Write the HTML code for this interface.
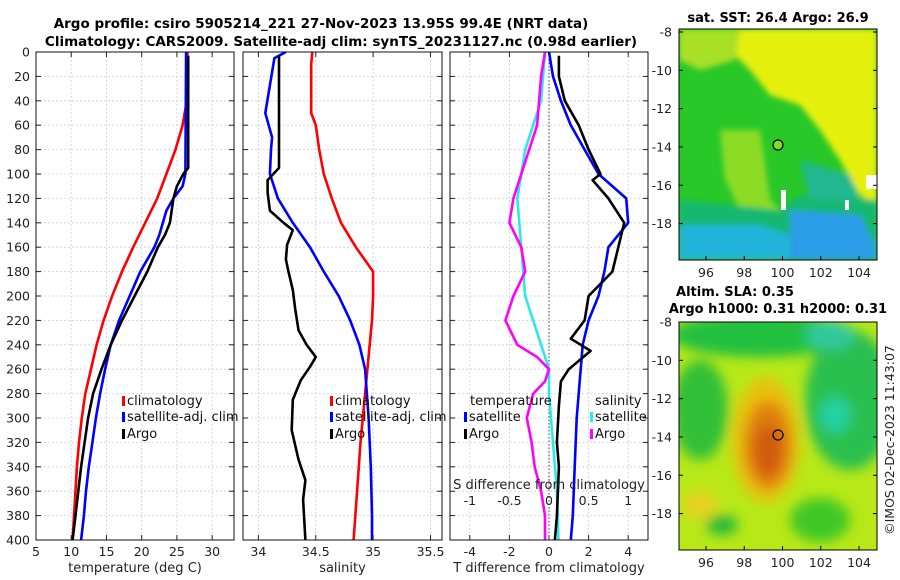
<!DOCTYPE html>
<html><head><meta charset="utf-8"><style>
html,body{margin:0;padding:0;background:#fff;}
svg{display:block;font-family:"DejaVu Sans","Liberation Sans",sans-serif;}
</style></head><body>
<svg id="c" width="900" height="580" viewBox="0 0 900 580">
<defs>
<filter id="bl" x="-20%" y="-20%" width="140%" height="140%"><feGaussianBlur stdDeviation="6"/></filter>
<filter id="bl2" x="-20%" y="-20%" width="140%" height="140%"><feGaussianBlur stdDeviation="3"/></filter>
<clipPath id="m1c"><rect x="679" y="29" width="198" height="231"/></clipPath>
<clipPath id="m2c"><rect x="679" y="322" width="198" height="228"/></clipPath>
</defs>
<text x="321" y="28" text-anchor="middle" font-size="13.5" font-weight="bold">Argo profile: csiro 5905214_221 27-Nov-2023 13.95S 99.4E (NRT data)</text>
<text x="341" y="46" text-anchor="middle" font-size="13.5" font-weight="bold">Climatology: CARS2009. Satellite-adj clim: synTS_20231127.nc (0.98d earlier)</text>

<g>
<text x="778" y="22" text-anchor="middle" font-size="13" font-weight="bold">sat. SST: 26.4 Argo: 26.9</text>
<g clip-path="url(#m1c)">
<rect x="679" y="29" width="198" height="231" fill="#28c828"/>
<g filter="url(#bl2)">
<polygon points="740,29 877,29 877,205 860,195 840,160 820,130 800,105 770,95 750,70 730,50" fill="#e6f00a"/>
<polygon points="679,29 740,29 735,60 700,70 679,60" fill="#a8e028"/>
<polygon points="720,130 760,130 770,200 780,210 740,210 725,180" fill="#8cdc28"/>
<polygon points="679,200 780,210 800,195 877,200 877,260 679,260" fill="#18b870"/>
<polygon points="679,225 760,225 790,235 877,240 877,260 679,260" fill="#20b4d8"/>
<polygon points="790,210 860,215 877,250 877,260 790,260" fill="#2c9ce8"/>
<polygon points="800,160 850,175 860,200 810,200" fill="#20b890"/>
</g>
<rect x="866" y="175" width="11" height="14" fill="#fff"/>
<rect x="781" y="190" width="5" height="20" fill="#fff"/>
<rect x="845" y="200" width="4" height="10" fill="#fff"/>
<circle cx="778" cy="145" r="5" fill="#80dc28" stroke="#000" stroke-width="1.2"/>
</g>
<rect x="679" y="29" width="198" height="231" fill="none" stroke="#000" stroke-width="1"/>
<g id="m1ax"></g>
</g>

<g>
<text x="735" y="296" text-anchor="middle" font-size="13" font-weight="bold">Altim. SLA: 0.35</text>
<text x="778" y="313" text-anchor="middle" font-size="13" font-weight="bold">Argo h1000: 0.31 h2000: 0.31</text>
<g clip-path="url(#m2c)">
<rect x="679" y="322" width="198" height="228" fill="#b8e818"/>
<g filter="url(#bl)">
<ellipse cx="760" cy="335" rx="90" ry="22" fill="#22c040"/>
<ellipse cx="850" cy="400" rx="45" ry="70" fill="#2cc050"/>
<ellipse cx="835" cy="415" rx="16" ry="18" fill="#28d0a0"/>
<ellipse cx="700" cy="410" rx="28" ry="50" fill="#30c038"/>
<ellipse cx="830" cy="335" rx="25" ry="14" fill="#30c8a0"/>
<ellipse cx="766" cy="440" rx="34" ry="62" fill="#e8c010"/>
<ellipse cx="768" cy="445" rx="24" ry="44" fill="#e08010"/>
<ellipse cx="768" cy="450" rx="14" ry="26" fill="#d05c08"/>
<ellipse cx="722" cy="525" rx="16" ry="10" fill="#28b838"/>
<ellipse cx="820" cy="520" rx="30" ry="22" fill="#40c828"/>
<ellipse cx="700" cy="505" rx="18" ry="14" fill="#e8d020"/>
</g>
<circle cx="778" cy="435" r="5" fill="none" stroke="#000" stroke-width="1.2"/>
</g>
<rect x="679" y="322" width="198" height="228" fill="none" stroke="#000" stroke-width="1"/>
<g id="m2ax"></g>
</g>
<text transform="translate(894,440) rotate(-90)" text-anchor="middle" font-size="12.5" fill="#222">©IMOS 02-Dec-2023 11:43:07</text>
<g id="plots"></g>
</svg>
<script>
// ---- data (depth in m) ----
const depthTicks=[0,20,40,60,80,100,120,140,160,180,200,220,240,260,280,300,320,340,360,380,400];
const tempTicks=[5,10,15,20,25,30];
const salTicks=[34,34.5,35,35.5];
const tdiffTicks=[-4,-2,0,2,4];
const sdiffTickLabels=["-1","-0.5","0","0.5","1"];
const sdiffTicks=[-1,-0.5,0,0.5,1];
const lonTicks=[96,98,100,102,104];
const latTicks=[-8,-10,-12,-14,-16,-18];

const climTDepth=[0,40,60,80,100,120,140,160,180,200,220,240,260,280,300,320,340,360,380,400];
const climTVal=[26.5,26.4,25.8,24.8,23.5,22.2,20.5,18.8,17.2,15.8,14.6,13.6,12.8,12.0,11.5,11.1,10.8,10.6,10.4,10.2];
const satTDepth=[0,100,110,120,130,150,160,180,200,220,240,260,280,300,320,340,360,380,400];
const satTVal=[26.3,26.2,25.8,24.5,23.5,22.5,21.8,19.8,18.3,16.8,15.6,14.8,14.1,13.5,13.0,12.5,12.1,11.8,11.4];
const argoTDepth=[3,95,100,110,120,140,150,160,180,200,220,240,260,280,300,320,340,360,380,400];
const argoTVal=[26.6,26.6,25.9,25.0,24.5,24.0,23.3,22.3,20.8,19.0,17.2,15.6,14.3,13.1,12.4,11.9,11.4,11.0,10.6,10.2];

const climSDepth=[0,10,50,60,80,100,120,140,160,180,200,220,240,260,280,300,320,360,400];
const climSVal=[34.47,34.46,34.46,34.5,34.53,34.57,34.64,34.72,34.85,35.0,35.0,34.99,34.97,34.95,34.93,34.91,34.89,34.86,34.83];
const satSDepth=[0,5,50,70,80,100,120,140,160,180,200,220,240,260,300,340,380,400];
const satSVal=[34.24,34.14,34.06,34.12,34.11,34.1,34.17,34.3,34.45,34.57,34.7,34.8,34.88,34.93,34.96,34.98,34.99,34.99];
const argoSDepth=[3,95,100,105,115,130,140,146,158,170,179,195,210,228,240,250,258,269,285,310,334,351,367,400];
const argoSVal=[34.18,34.18,34.13,34.08,34.08,34.1,34.22,34.3,34.25,34.24,34.26,34.3,34.32,34.35,34.42,34.5,34.45,34.37,34.3,34.29,34.35,34.41,34.39,34.41];

const dTSatDepth=[0,20,40,60,80,100,120,140,160,180,200,220,240,260,300,340,380,400];
const dTSatVal=[0.0,0.2,0.6,1.1,1.8,2.5,3.9,4.0,3.0,2.8,2.5,2.0,1.7,1.6,1.4,1.3,1.2,1.1];
const dTArgoDepth=[3,20,40,60,80,100,105,120,140,160,180,200,220,235,245,260,270,290,320,340,360,380,400];
const dTArgoVal=[0.5,0.5,0.8,1.5,2.0,2.6,2.2,3.0,3.8,3.5,3.2,2.0,1.8,1.1,2.1,1.0,0.6,0.5,0.4,0.5,0.45,0.4,0.3];
const dSSatDepth=[0,40,80,120,160,200,240,260,280,320,360,400];
const dSSatVal=[-0.05,-0.1,-0.3,-0.4,-0.35,-0.3,-0.1,0.0,0.0,0.05,0.1,0.12];
const dSArgoDepth=[0,20,60,100,120,140,160,180,200,220,240,250,260,270,280,300,320,340,360,380,400];
const dSArgoVal=[-0.05,-0.1,-0.15,-0.35,-0.45,-0.5,-0.35,-0.3,-0.45,-0.55,-0.4,-0.15,0.0,-0.05,-0.2,-0.28,-0.22,-0.18,-0.1,-0.05,-0.05];

const NS='http://www.w3.org/2000/svg';
const root=document.getElementById('plots');
function mk(tag,attrs,parent){const e=document.createElementNS(NS,tag);for(const k in attrs)e.setAttribute(k,attrs[k]);(parent||root).appendChild(e);return e;}
const Y0=52,Y1=540;
const yD=d=>Y0+(d/400)*(Y1-Y0);

const panels=[
 {name:'temperature',x0:36,x1:234,v0:5,v1:33.1,ticks:tempTicks,lab:tempTicks.map(String),xlabel:'temperature (deg C)'},
 {name:'salinity',x0:243,x1:442,v0:33.866,v1:35.6,ticks:salTicks,lab:["34","34.5","35","35.5"],xlabel:'salinity'},
 {name:'difference',x0:450,x1:648,v0:-5,v1:5,ticks:tdiffTicks,lab:tdiffTicks.map(String),xlabel:'T difference from climatology'}
];
panels.forEach((p,pi)=>{
 p.sx=v=>p.x0+(v-p.v0)/(p.v1-p.v0)*(p.x1-p.x0);
 const g=mk('g',{});
 
 
 p.g=g;
 mk('rect',{x:p.x0,y:Y0,width:p.x1-p.x0,height:Y1-Y0,fill:'#fff'},g);
 depthTicks.forEach(d=>{mk('line',{x1:p.x0,x2:p.x1,y1:yD(d),y2:yD(d),stroke:'#c8cde8','stroke-width':0.8,'stroke-dasharray':'2,2'},g);
  mk('line',{x1:p.x0,x2:p.x0+5,y1:yD(d),y2:yD(d),stroke:'#222'},g);mk('line',{x1:p.x1-5,x2:p.x1,y1:yD(d),y2:yD(d),stroke:'#222'},g);
  if(pi==0){const t=mk('text',{x:p.x0-6,y:yD(d)+4.5,'text-anchor':'end','font-size':12.5,fill:'#222'},g);t.textContent=d;}});
 p.ticks.forEach((v,i)=>{const x=p.sx(v);
  mk('line',{x1:x,x2:x,y1:Y0,y2:Y1,stroke:'#c8cde8','stroke-width':0.8,'stroke-dasharray':'2,2'},g);
  mk('line',{x1:x,x2:x,y1:Y1-5,y2:Y1,stroke:'#222'},g);mk('line',{x1:x,x2:x,y1:Y0,y2:Y0+5,stroke:'#222'},g);
  const t=mk('text',{x:x,y:Y1+16,'text-anchor':'middle','font-size':12.5,fill:'#222'},g);t.textContent=p.lab[i];
  
  });
 const xl=mk('text',{x:(p.x0+p.x1)/2,y:572,'text-anchor':'middle','font-size':13,fill:'#222'},g);xl.textContent=p.xlabel;
 
 
});
function line(p,depths,vals,color,name,w,sc){
 const pts=depths.map((d,i)=>(p.sx(vals[i]*(sc||1))).toFixed(1)+','+yD(d).toFixed(1)).join(' ');
 const e=mk('polyline',{points:pts,fill:'none',stroke:color,'stroke-width':w||2.6,'stroke-linejoin':'round'},p.g);
 
 
}
const P=panels;
line(P[0],climTDepth,climTVal,'#f00','temp-climatology-line');
line(P[0],satTDepth,satTVal,'#00f','temp-satellite-line');
line(P[0],argoTDepth,argoTVal,'#000','temp-argo-line');
line(P[1],climSDepth,climSVal,'#f00','sal-climatology-line');
line(P[1],satSDepth,satSVal,'#00f','sal-satellite-line');
line(P[1],argoSDepth,argoSVal,'#000','sal-argo-line');
mk('line',{x1:P[2].sx(0),x2:P[2].sx(0),y1:Y0,y2:Y1,stroke:'#444','stroke-width':1,'stroke-dasharray':'1.5,2'},P[2].g);
line(P[2],dSSatDepth,dSSatVal,'#2ee8e8','sdiff-satellite-line',2.6,4);
line(P[2],dSArgoDepth,dSArgoVal,'#f0f','sdiff-argo-line',2.6,4);
line(P[2],dTSatDepth,dTSatVal,'#00f','tdiff-satellite-line');
line(P[2],dTArgoDepth,dTArgoVal,'#000','tdiff-argo-line');
const g3=P[2].g;
let st=mk('text',{x:549,y:489,'text-anchor':'middle','font-size':13,fill:'#222'},g3);st.textContent='S difference from climatology';


sdiffTicks.forEach((v,i)=>{const t=mk('text',{x:P[2].sx(v*4),y:505,'text-anchor':'middle','font-size':12.5,fill:'#222'},g3);t.textContent=sdiffTickLabels[i];
 
 });
function leg(g,x,y,color,label,name){
 if(color)mk('rect',{x:x,y:y-9,width:3,height:10,fill:color},g);
 const t=mk('text',{x:x+(color?5:0),y:y,'font-size':13,fill:'#111'},g);t.textContent=label;
 
 
}
leg(P[0].g,122,405,'#f00','climatology','legend-climatology');
leg(P[0].g,122,421,'#00f','satellite-adj. clim','legend-satellite-adj');
leg(P[0].g,122,438,'#000','Argo','legend-argo');
leg(P[1].g,330,405,'#f00','climatology','legend-sal-climatology');
leg(P[1].g,330,421,'#00f','satellite-adj. clim','legend-sal-satellite-adj');
leg(P[1].g,330,438,'#000','Argo','legend-sal-argo');
leg(P[2].g,470,405,null,'temperature','legend-temperature-header');
leg(P[2].g,464,421,'#00f','satellite','legend-tdiff-satellite');
leg(P[2].g,464,438,'#000','Argo','legend-tdiff-argo');
leg(P[2].g,595,405,null,'salinity','legend-salinity-header');
leg(P[2].g,590,421,'#2ee8e8','satellite','legend-sdiff-satellite');
leg(P[2].g,590,438,'#f0f','Argo','legend-sdiff-argo');
P.forEach(p=>mk('rect',{x:p.x0,y:Y0,width:p.x1-p.x0,height:Y1-Y0,fill:'none',stroke:'#111','stroke-width':1},p.g));
function mapAx(id,yTop,yBot,latBot){
 const g=document.getElementById(id);
 const lx=v=>706+(v-96)*19.13;
 const ly=v=>yTop+(-8-v)*((yBot-yTop)/(-8-latBot));
 lonTicks.forEach(v=>{mk('line',{x1:lx(v),x2:lx(v),y1:yBot-4,y2:yBot,stroke:'#000'},g);
  const t=mk('text',{x:lx(v),y:yBot+17,'text-anchor':'middle','font-size':12.5,fill:'#222'},g);t.textContent=v;});
 latTicks.forEach(v=>{mk('line',{x1:679,x2:683,y1:ly(v),y2:ly(v),stroke:'#000'},g);mk('line',{x1:873,x2:877,y1:ly(v),y2:ly(v),stroke:'#000'},g);
  const t=mk('text',{x:672,y:ly(v)+4.5,'text-anchor':'end','font-size':12.5,fill:'#222'},g);t.textContent=v;});
}
mapAx('m1ax',32,260,-19.9);
mapAx('m2ax',322,550,-19.9);
</script>
</body></html>
